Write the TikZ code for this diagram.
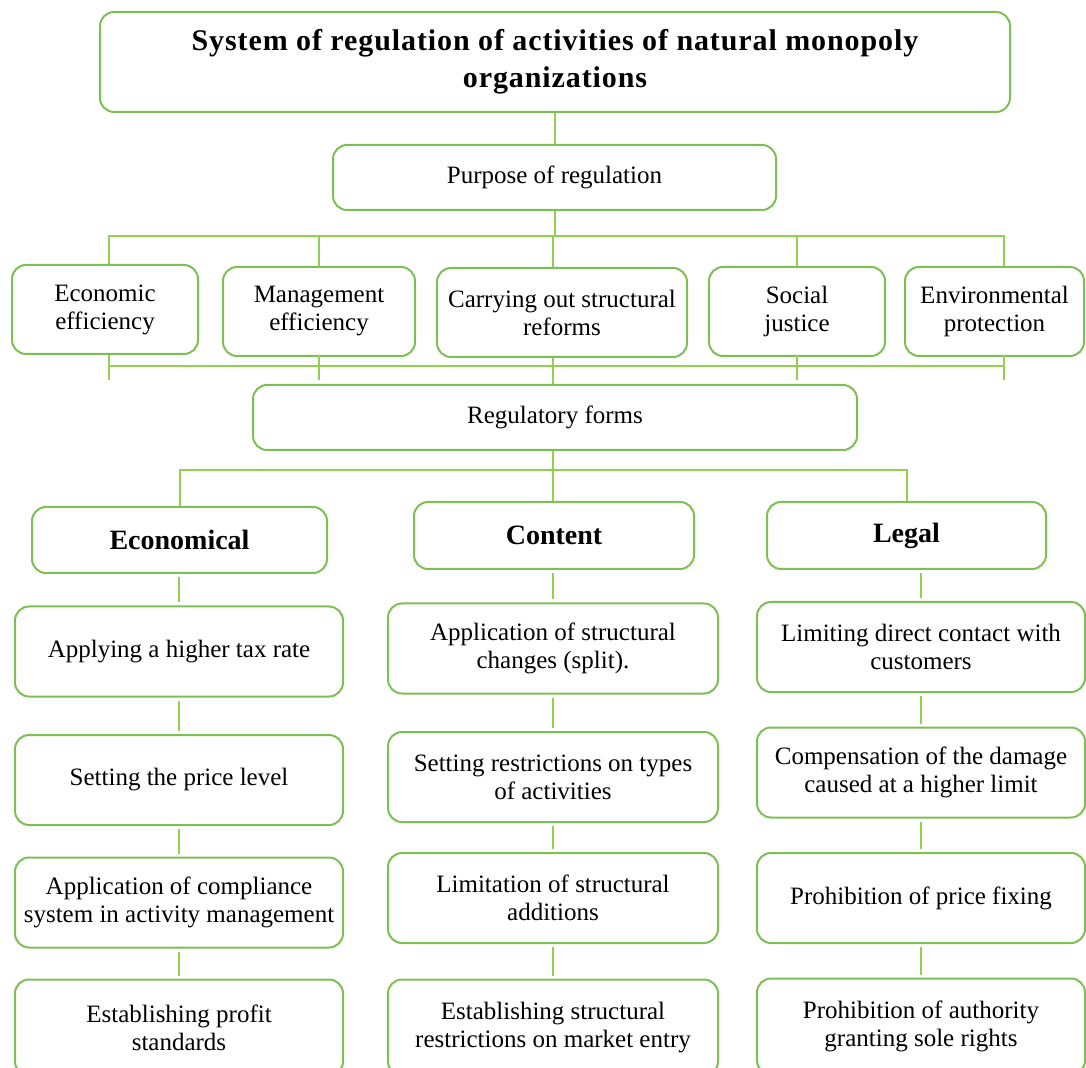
\documentclass[tikz,border=0pt]{standalone}
\usepackage{fontspec}
\setmainfont{Liberation Serif}
\usepackage{tikz}
\usetikzlibrary{positioning}
\usepackage{xcolor}
\definecolor{frame}{HTML}{7CBF54}
\definecolor{wire}{HTML}{92D050}

\tikzset{
  box/.style={draw=frame, line width=1pt, rounded corners=7pt, align=center,
    inner sep=2pt, font=\fontsize{12.5}{14}\selectfont},
  goal/.style={box, minimum height=44.5pt},
  head/.style={box, minimum height=33.5pt, font=\fontsize{14}{16}\selectfont\bfseries},
  item/.style={box, minimum width=164pt, minimum height=45pt},
  link/.style={draw=wire, line width=1pt}
}

\begin{document}
\begin{tikzpicture}[x=0.5pt, y=-0.5pt]
  \clip (0,0) rectangle (1086,1068);

  % System and purpose
  \node[box, minimum width=455pt, minimum height=50pt,
    font=\fontsize{15}{18.5}\selectfont\bfseries\addfontfeature{LetterSpace=3}] (sys) at (555,62)
    {System of regulation of activities of natural monopoly\\organizations};
  \node[box, minimum width=221.5pt, minimum height=32.5pt] (purpose) at (554.5,177.5) {Purpose of regulation};

  % Goals
  \node[goal, minimum width=93pt] (g1) at (105,309.5) {Economic\\efficiency};
  \node[goal, minimum width=96pt] (g2) at (319,311.5) {Management\\efficiency};
  \node[goal, minimum width=125pt] (g3) at (562,312.5) {Carrying out structural\\reforms};
  \node[goal, minimum width=88pt] (g4) at (797,311.5) {Social\\justice};
  \node[goal, minimum width=89.5pt] (g5) at (994.5,311.5) {Environmental\\protection};

  % Forms
  \node[box, minimum width=302pt, minimum height=32.5pt] (forms) at (555,417.5) {Regulatory forms};
  \node[head, minimum width=147.5pt, minimum height=33pt] (econ) at (179.5,540) {Economical};
  \node[head, minimum width=140pt] (content) at (554,535.5) {Content};
  \node[head, minimum width=139.5pt] (legal) at (906.5,535.5) {Legal};

  % Economical column
  \node[item] (e1) at (179,651.5) {Applying a higher tax rate};
  \node[item] (e2) at (179,780) {Setting the price level};
  \node[item] (e3) at (179,902.5) {Application of compliance\\system in activity management};
  \node[item, minimum height=48pt] (e4) at (179,1027.5) {Establishing profit\\standards};

  % Content column
  \node[item, minimum width=165pt] (c1) at (553,648.5) {Application of structural\\changes (split).};
  \node[item, minimum width=165pt] (c2) at (553,777) {Setting restrictions on types\\of activities};
  \node[item, minimum width=165pt] (c3) at (553,898) {Limitation of structural\\additions};
  \node[item, minimum width=165pt, minimum height=48pt] (c4) at (553,1027.5) {Establishing structural\\restrictions on market entry};

  % Legal column
  \node[item] (l1) at (921,647) {Limiting direct contact with\\customers};
  \node[item] (l2) at (921,772.5) {Compensation of the damage\\caused at a higher limit};
  \node[item] (l3) at (921,898) {Prohibition of price fixing};
  \node[item, minimum height=48pt] (l4) at (921,1026.5) {Prohibition of authority\\granting sole rights};

  % Links
  \coordinate (top) at (553,236);
  \coordinate (mid) at (553,366);
  \coordinate (tick) at (553,380);
  \coordinate (low) at (553,470);
  \coordinate (lft) at (109,0);
  \coordinate (rgt) at (1004,0);

  \draw[link] (purpose.north |- sys.south) -- (purpose.north);
  \draw[link] (purpose.south) -- (purpose.south |- top);
  \draw[link] (lft |- g1.north) |- (top) -| (rgt |- g5.north);
  \draw[link] (top) -- (top |- g3.north);
  \foreach \g in {g2,g4}
    \draw[link] (\g.north) -- (\g.north |- top);

  \draw[link] (lft |- mid) -- (rgt |- mid);
  \foreach \g in {lft,g2,g4,rgt}
    \draw[link] (\g |- g1.south) -- (\g |- tick);
  \draw[link] (top |- g3.south) -- (top |- forms.north);

  \draw[link] (forms.south -| top) -- (low);
  \draw[link] (econ.north) |- (low) -| (legal.north);
  \draw[link] (low) -- (low |- content.north);

  \foreach \a/\b in {econ/e1,e1/e2,e2/e3,e3/e4,content/c1,c1/c2,c2/c3,c3/c4,legal/l1,l1/l2,l2/l3,l3/l4}
    \draw[link, shorten <=1.5pt, shorten >=1.5pt] (\b.north |- \a.south) -- (\b.north);
\end{tikzpicture}
\end{document}
